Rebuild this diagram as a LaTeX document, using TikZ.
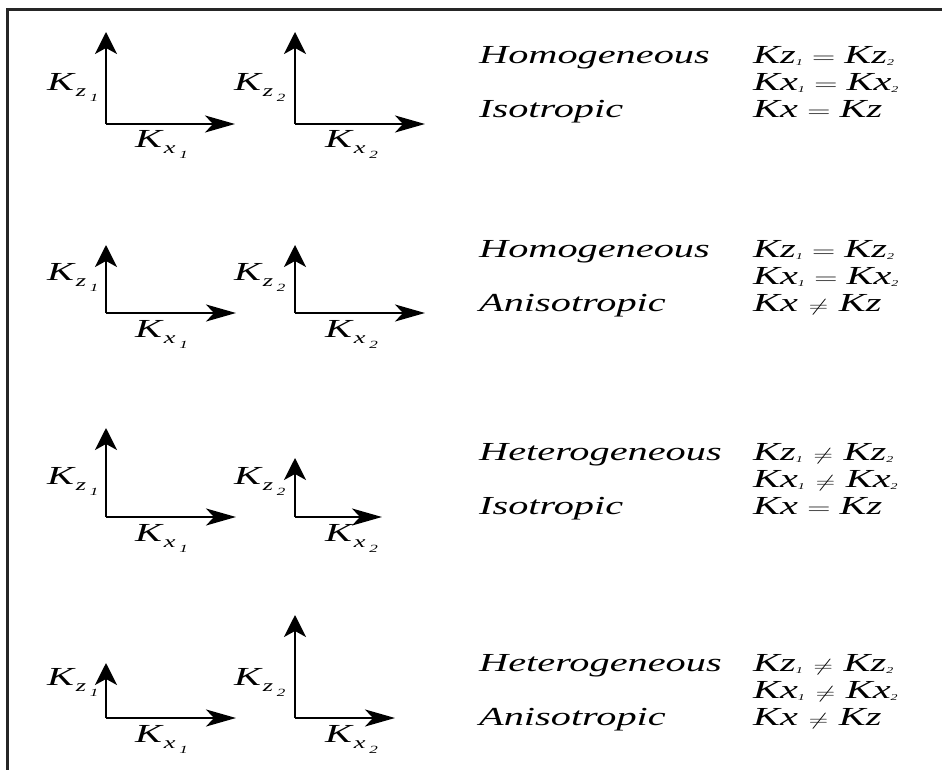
\documentclass[tikz,border=0pt]{standalone}
\usepackage{fontspec}
\usepackage{graphicx}
\setmainfont{Liberation Serif}
\usetikzlibrary{arrows.meta}

% all lettering is set wide
\newcommand\wide[1]{\scalebox{1.55}[1]{#1}}
% axis label K with a lowered index and a further lowered number
\newcommand\kaxis[2]{\wide{\textit{K}\raisebox{-6pt}{\fontsize{17}{17}\selectfont\textit{#1}\hspace{2.5pt}\raisebox{-5pt}{\fontsize{11}{11}\selectfont\textit{#2}}}}}
% small index number used in the relations
\newcommand\ix[1]{\raisebox{-2pt}{\fontsize{9}{9}\selectfont\textit{#1}}}
\newcommand\EQ{\hspace{6pt}{\fontsize{21}{21}\selectfont$=$}\hspace{6pt}}
\newcommand\NE{\hspace{7pt}{\fontsize{17}{17}\selectfont$\neq$}\hspace{7pt}}

\tikzset{
  axisline/.style={line width=2pt},
  uparrow/.style={axisline, -{Stealth[length=22pt,width=22pt,inset=6pt]}},
  rightarrow/.style={axisline, -{Stealth[length=30pt,width=17pt,inset=8pt]}},
  lab/.style={inner sep=0pt, anchor=base west, font=\fontsize{26}{26}\selectfont},
  frameline/.style={line width=2.2pt, draw=black!85},
}

\begin{document}
\begin{tikzpicture}[x=1pt,y=-1pt]
\useasboundingbox (0,0) rectangle (942,770);

% open frame along the left and top edges
\draw[frameline] (7.5,770) -- (7.5,9.5) -- (942,9.5);

% two pairs of axes per row: origin y, tops of the z axes, tips of the x axes
\foreach \r/\oy/\ta/\tb/\ha/\hb in {1/124/32/32/235/425, 2/313/245/245/236/425,
                                    3/517/428/458/236/382, 4/718/663/615/236/395}{
  \coordinate (o\r a) at (106,\oy);
  \coordinate (z\r a) at (106,\ta);
  \coordinate (x\r a) at (\ha,\oy);
  \coordinate (o\r b) at (295,\oy);
  \coordinate (z\r b) at (295,\tb);
  \coordinate (x\r b) at (\hb,\oy);
  \draw[uparrow] (o\r a) -- (z\r a);
  \draw[rightarrow] (o\r a) -- (x\r a);
  \draw[uparrow] (o\r b) -- (z\r b);
  \draw[rightarrow] (o\r b) -- (x\r b);
  \node[lab] (kz\r a) at (47,\oy-33) {\kaxis{z}{1}};
  \node[lab] (kx\r a) at (135,\oy+24) {\kaxis{x}{1}};
  \node[lab] (kz\r b) at (234,\oy-33) {\kaxis{z}{2}};
  \node[lab] (kx\r b) at (325,\oy+24) {\kaxis{x}{2}};
}

% properties and relations of each row
\foreach \r/\by/\wa/\wb/\ea/\eb/\ec in {
  1/64/Homogeneous/Isotropic/\EQ/\EQ/\EQ,
  2/257/Homogeneous/Anisotropic/\EQ/\EQ/\NE,
  3/460/Heterogeneous/Isotropic/\NE/\NE/\EQ,
  4/671/Heterogeneous/Anisotropic/\NE/\NE/\NE}{
  \node[lab] (ta\r) at (479,\by) {\wide{\textit{\wa}}};
  \node[lab] (tb\r) at (479,\by+54) {\wide{\textit{\wb}}};
  \node[lab] (ea\r) at (753,\by) {\wide{\textit{Kz}\ix{1}\ea\textit{Kz}\ix{2}}};
  \node[lab] (eb\r) at (753,\by+27) {\wide{\textit{Kx}\ix{1}\eb\textit{Kx}\ix{2}}};
  \node[lab] (ec\r) at (753,\by+54) {\wide{\textit{Kx}\ec\textit{Kz}}};
}
\end{tikzpicture}
\end{document}
